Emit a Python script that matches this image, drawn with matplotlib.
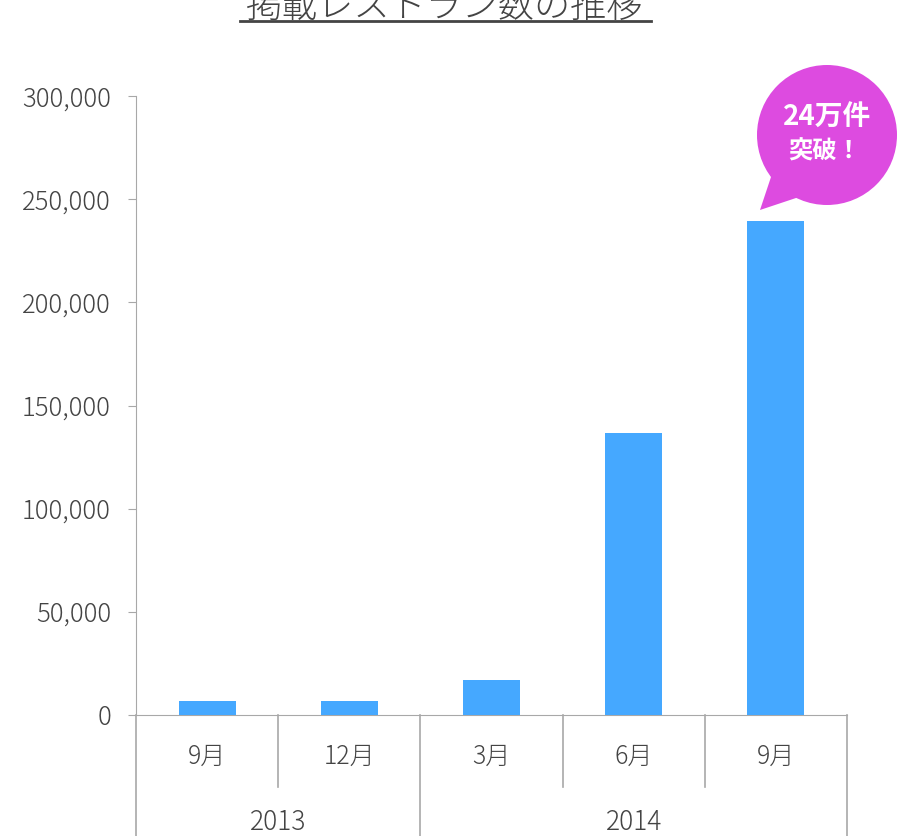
import numpy as np
import matplotlib.pyplot as plt
from matplotlib.patches import Circle, Polygon

plt.rcParams['font.family'] = ['Noto Sans CJK JP', 'DejaVu Sans']

# data
months = ['9月', '12月', '3月', '6月', '9月']
years = ['2013', '2014']
year_spans = [(0, 1), (2, 4)]  # category index range per year
restaurants = [6600, 6900, 17100, 136700, 239500]
yticks = [0, 50000, 100000, 150000, 200000, 250000, 300000]

bar_color = '#45A8FF'
bubble_color = '#DD4BE0'
text_color = '#444444'
line_color = '#A8A8A8'

fig = plt.figure(figsize=(9.04, 8.36), dpi=100)
ax = fig.add_axes([136 / 904, 1 - 715 / 836, (847 - 136) / 904, (715 - 96) / 836])

x = np.arange(len(months))
ax.bar(x, restaurants, width=0.4, color=bar_color, zorder=3)

ax.set_xlim(-0.5, len(months) - 0.5)
ax.set_ylim(0, 300000)
ax.set_yticks(yticks)
ax.set_yticklabels([f'{v:,}' for v in yticks], fontsize=18.5, color=text_color,
                   fontweight='light')
ax.tick_params(axis='y', length=6, color=line_color, pad=12)
ax.set_xticks([])

for s in ['top', 'right']:
    ax.spines[s].set_visible(False)
ax.spines['left'].set_color(line_color)
ax.spines['bottom'].set_color(line_color)
ax.spines['left'].set_bounds(0, 300000)

# multi-level category axis
trans = ax.get_xaxis_transform()
short_y = -72 / 619
long_y = -121 / 619
bounds = np.arange(len(months) + 1) - 0.5
year_edges = {-0.5, 1.5, 4.5}
for b in bounds:
    b = b + 0.0
    y0 = long_y if (b in year_edges) else short_y
    ax.plot([b, b], [0, y0], transform=trans, color=line_color, lw=1.2, clip_on=False)

for i, m in enumerate(months):
    ax.text(i, -42 / 619, m, transform=trans, ha='center', va='center',
            fontsize=18, color=text_color, fontweight='light')
for yr, (a, b) in zip(years, year_spans):
    ax.text((a + b) / 2, -107 / 619, yr, transform=trans, ha='center', va='center',
            fontsize=19, color=text_color, fontweight='light')

# overlay in pixel coordinates for title and callout
ov = fig.add_axes([0, 0, 1, 1], facecolor='none')
ov.set_xlim(0, 904)
ov.set_ylim(836, 0)
ov.axis('off')

ov.text(445, 17, '掲載レストラン数の推移', ha='center', va='baseline',
        fontsize=26, color=text_color, fontweight='light')
ov.plot([240, 651], [21, 21], color=text_color, lw=2)

tail = Polygon([[775, 165], [760, 210], [805, 195]], closed=True,
               facecolor=bubble_color, edgecolor='none')
ov.add_patch(tail)
ov.add_patch(Circle((827, 135), 70, facecolor=bubble_color, edgecolor='none'))
ov.text(827, 118, '24万件', ha='center', va='center', fontsize=20,
        fontweight='bold', color='white')
ov.text(825, 152, '突破！', ha='center', va='center', fontsize=17.5,
        fontweight='bold', color='white')

fig.savefig('out.png', dpi=100)
